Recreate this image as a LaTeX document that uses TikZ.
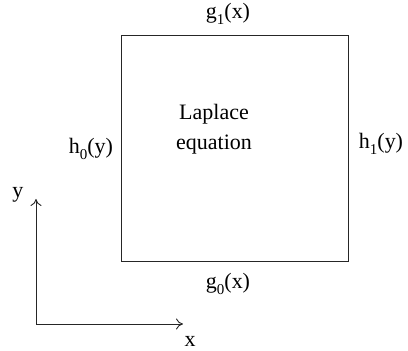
\documentclass[tikz,border=0pt]{standalone}
\usepackage{fontspec}
\setmainfont{Liberation Serif}
\usetikzlibrary{arrows.meta}
\newcommand{\lowsub}[1]{\raisebox{-0.3em}{\fontsize{15}{15}\selectfont #1}}
\begin{document}
\begin{tikzpicture}[x=1pt,y=1pt,
  lbl/.style={inner sep=0pt,font=\fontsize{22}{26}\selectfont},
  ln/.style={line width=0.9pt,draw=black!85},
  axarrow/.style={ln,-{To[length=7pt,width=11pt,line width=0.9pt]}}]
\useasboundingbox (0,0) rectangle (408,351);
\node[ln,draw,minimum width=227pt,minimum height=226pt,inner sep=0pt] (sq) at (234.5,203) {};
\node[lbl] (g1) at (228,337) {g\lowsub{1}(x)};
\node[lbl] (g0) at (228,67) {g\lowsub{0}(x)};
\node[lbl] (h0) at (91,202) {h\lowsub{0}(y)};
\node[lbl] (h1) at (381,207) {h\lowsub{1}(y)};
\node[lbl,align=center,font=\fontsize{22}{30}\selectfont] (lap) at (214,222) {Laplace\\equation};
\coordinate (o) at (36,27);
\coordinate (ye) at (36,152);
\coordinate (xe) at (183,27);
\draw[axarrow] (o) -- (ye);
\draw[axarrow] (o) -- (xe);
\node[lbl] (ylab) at (18,156) {y};
\node[lbl] (xlab) at (190,10) {x};
\end{tikzpicture}
\end{document}
